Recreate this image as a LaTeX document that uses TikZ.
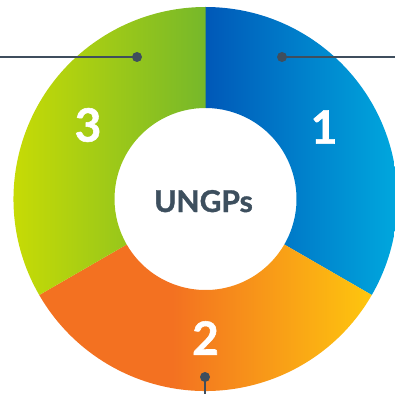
\documentclass[tikz,border=0pt]{standalone}
\usepackage{fontspec}
\setmainfont{Lato}[BoldFeatures={FakeBold=1.2}]
\definecolor{line}{HTML}{3F4E5D}
\definecolor{title}{HTML}{3D4F5E}
\definecolor{blueL}{HTML}{0058B8}
\definecolor{blueR}{HTML}{00A8DE}
\definecolor{greenL}{HTML}{D2E000}
\definecolor{greenR}{HTML}{76B82A}
\definecolor{orangeL}{HTML}{F37121}
\definecolor{orangeR}{HTML}{FEC60E}
\pgfdeclarehorizontalshading{orangeshade}{100bp}{color(0bp)=(orangeL); color(25bp)=(orangeL); color(45bp)=(orangeL); color(75bp)=(orangeR); color(100bp)=(orangeR)}
\begin{document}
\begin{tikzpicture}[x=1pt,y=1pt,
  num/.style={text=white,font=\bfseries\fontsize{46}{46}\selectfont,inner sep=0pt},
  dot/.style={circle,fill=line,minimum size=10pt,inner sep=0pt},
  lead/.style={draw=line,line width=1.8pt}]
\useasboundingbox (0,0) rectangle (395,394);
\def\R{192}\def\r{91}
\coordinate (C) at (205.5,195);
% segment 1
\shade[left color=blueL,right color=blueR]
  ([shift={(C)}]90:\R) arc[start angle=90,end angle=-30,radius=\R]
  -- ([shift={(C)}]-30:\r) arc[start angle=-30,end angle=90,radius=\r] -- cycle;
% segment 2
\shade[shading=orangeshade]
  ([shift={(C)}]-30:\R) arc[start angle=-30,end angle=-150,radius=\R]
  -- ([shift={(C)}]-150:\r) arc[start angle=-150,end angle=-30,radius=\r] -- cycle;
% segment 3
\shade[left color=greenL,right color=greenR]
  ([shift={(C)}]210:\R) arc[start angle=210,end angle=90,radius=\R]
  -- ([shift={(C)}]90:\r) arc[start angle=90,end angle=210,radius=\r] -- cycle;
% labels
\node[num] (n1) at (324,267) {1};
\node[num] (n2) at (205.5,56) {2};
\node[num] (n3) at (88,269) {3};
\node[anchor=base,text=title,font=\bfseries\fontsize{30}{30}\selectfont,inner sep=0pt] (t) at (203.5,182) {UNGPs};
% leaders
\node[dot] (d3) at (137,337) {};
\node[dot] (d1) at (282,337) {};
\node[dot] (d2) at (205,17) {};
\coordinate (e3) at (0,337);
\coordinate (e1) at (395,337);
\coordinate (e2) at (205,0);
\draw[lead] (d3.center) -- (e3);
\draw[lead] (d1.center) -- (e1);
\draw[lead] (d2.center) -- (e2);
\end{tikzpicture}
\end{document}
